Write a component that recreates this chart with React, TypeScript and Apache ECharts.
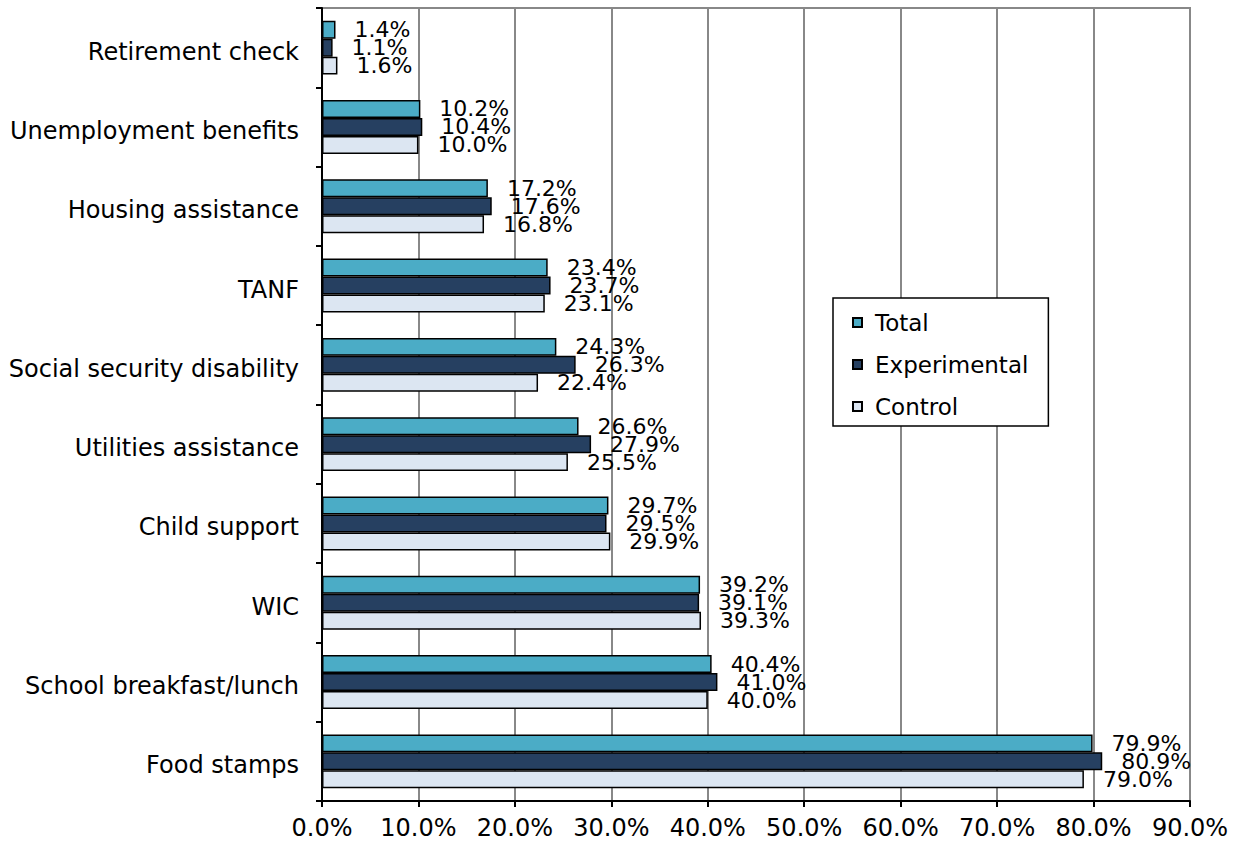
import React, { useEffect, useRef } from "react";
import * as echarts from "echarts";

const categories = [
  "Retirement check",
  "Unemployment benefits",
  "Housing assistance",
  "TANF",
  "Social security disability",
  "Utilities assistance",
  "Child support",
  "WIC",
  "School breakfast/lunch",
  "Food stamps",
];
const totalValues = [1.4, 10.2, 17.2, 23.4, 24.3, 26.6, 29.7, 39.2, 40.4, 79.9];
const experimentalValues = [1.1, 10.4, 17.6, 23.7, 26.3, 27.9, 29.5, 39.1, 41.0, 80.9];
const controlValues = [1.6, 10.0, 16.8, 23.1, 22.4, 25.5, 29.9, 39.3, 40.0, 79.0];

const FONT = "DejaVu Sans";
const pct = (v: number) => `${Number(v).toFixed(1)}%`;

export default function App() {
  const ref = useRef<HTMLDivElement>(null);
  useEffect(() => {
    if (!ref.current) return;
    const chart = echarts.init(ref.current, undefined, { renderer: "svg" });
    const mkSeries = (name: string, data: number[], color: string) => ({
      name,
      type: "bar",
      data,
      barGap: "0%",
      barCategoryGap: "32%",
      itemStyle: { color, borderColor: "#000", borderWidth: 1.5 },
      label: {
        show: true,
        position: "right",
        distance: 19,
        fontFamily: FONT,
        fontSize: 22,
        color: "#000",
        formatter: (p: any) => pct(p.value),
      },
    });
    chart.setOption({
      animation: false,
      backgroundColor: "#fff",
      textStyle: { fontFamily: FONT },
      grid: {
        left: 322,
        right: 50,
        top: 8,
        bottom: 53,
        show: true,
        borderColor: "#888",
        borderWidth: 2,
      },
      legend: {
        orient: "vertical",
        left: 833,
        top: 298,
        data: ["Total", "Experimental", "Control"],
        icon: "rect",
        itemWidth: 9,
        itemHeight: 9,
        itemGap: 19,
        padding: [13, 20, 8, 19],
        borderColor: "#000",
        borderWidth: 1.5,
        backgroundColor: "#fff",
        textStyle: {
          fontFamily: FONT,
          fontSize: 23,
          color: "#000",
          padding: [0, 0, 0, 8],
        },
      },
      xAxis: {
        type: "value",
        min: 0,
        max: 90,
        interval: 10,
        axisLine: { show: true, lineStyle: { color: "#000", width: 2 } },
        axisTick: { show: true, length: 6, lineStyle: { color: "#000", width: 2 } },
        splitLine: { show: true, lineStyle: { color: "#888", width: 2 } },
        axisLabel: {
          fontFamily: FONT,
          fontSize: 24,
          color: "#000",
          margin: 15,
          formatter: (v: number) => pct(v),
        },
      },
      yAxis: {
        type: "category",
        inverse: true,
        data: categories,
        axisLine: { show: true, lineStyle: { color: "#000", width: 2 } },
        axisTick: { show: true, length: 6, lineStyle: { color: "#000", width: 2 } },
        axisLabel: {
          color: "#000",
          margin: 23,
          formatter: (v: string) => `{a|${v}}`,
          rich: {
            a: {
              fontFamily: FONT,
              fontSize: 24,
              color: "#000",
              padding: [8, 0, 0, 0],
            },
          },
        },
      },
      series: [
        mkSeries("Total", totalValues, "#4BACC6"),
        mkSeries("Experimental", experimentalValues, "#264061"),
        mkSeries("Control", controlValues, "#DCE6F2"),
      ],
    });
    return () => chart.dispose();
  }, []);
  return (
    <div
      ref={ref}
      style={{ position: "fixed", left: 0, top: 0, width: 1240, height: 854 }}
    />
  );
}
